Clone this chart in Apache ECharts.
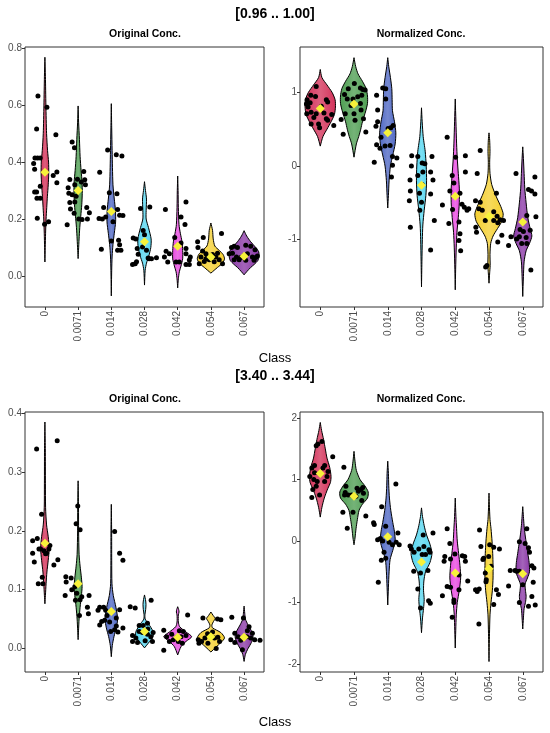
<!DOCTYPE html>
<html>
<head>
<meta charset="utf-8">
<script src="https://cdn.jsdelivr.net/npm/echarts@6.0.0/dist/echarts.min.js"></script>
<style>
  html, body { margin: 0; padding: 0; background: #fff; }
  #chart { width: 550px; height: 733px; }
</style>
</head>
<body>
<div id="chart"></div>
<script>
// categories and colours
var classLabels = ['0', '0.0071', '0.014', '0.028', '0.042', '0.054', '0.067'];
var violinColors = ['#d3325a', '#4e9e52', '#4f68c4', '#56d6f0', '#e849e0', '#f5cf2f', '#8a38a6'];

// ---- [0.96 .. 1.00] / Original Conc. ----
// violin outlines: [value, half width in class units]
var tlViolins = [
    [[0.768,0],[0.7,0.015],[0.6,0.03],[0.5,0.05],[0.44,0.08],[0.4,0.11],[0.36,0.115],[0.32,0.1],[0.28,0.075],[0.24,0.055],[0.2,0.035],[0.15,0.02],[0.1,0.01],[0.049,0]],
    [[0.597,0],[0.54,0.015],[0.48,0.04],[0.42,0.06],[0.37,0.09],[0.33,0.12],[0.29,0.125],[0.25,0.11],[0.21,0.08],[0.17,0.05],[0.13,0.03],[0.09,0.012],[0.061,0]],
    [[0.605,0],[0.52,0.012],[0.44,0.025],[0.38,0.035],[0.32,0.05],[0.27,0.09],[0.23,0.125],[0.19,0.13],[0.15,0.09],[0.11,0.05],[0.07,0.025],[0.02,0.012],[-0.07,0]],
    [[0.331,0],[0.3,0.03],[0.27,0.06],[0.23,0.05],[0.2,0.05],[0.17,0.12],[0.13,0.2],[0.1,0.19],[0.07,0.13],[0.045,0.06],[0.02,0.02],[-0.032,0]],
    [[0.351,0],[0.3,0.012],[0.24,0.02],[0.18,0.04],[0.15,0.08],[0.12,0.13],[0.09,0.15],[0.06,0.15],[0.035,0.1],[0.015,0.05],[-0.01,0.02],[-0.042,0]],
    [[0.186,0],[0.16,0.05],[0.13,0.07],[0.105,0.12],[0.09,0.25],[0.075,0.37],[0.06,0.41],[0.045,0.35],[0.03,0.2],[0.02,0.1],[0.01,0]],
    [[0.159,0],[0.14,0.08],[0.12,0.2],[0.1,0.35],[0.085,0.44],[0.07,0.45],[0.055,0.42],[0.04,0.3],[0.03,0.2],[0.015,0.08],[0.004,0]]
];
// points: [jitter offset, value]
var tlPoints = [
    [[-0.21,0.632],[0.06,0.592],[-0.25,0.516],[0.33,0.496],[-0.30,0.414],[-0.22,0.414],[-0.14,0.414],[-0.34,0.395],[-0.31,0.375],[0.25,0.353],[0.36,0.365],[0.36,0.327],[-0.14,0.315],[-0.31,0.295],[-0.25,0.295],[-0.24,0.273],[-0.14,0.273],[-0.23,0.203],[0.11,0.19],[-0.01,0.182]],
    [[-0.18,0.47],[-0.11,0.45],[0.17,0.367],[-0.25,0.339],[-0.02,0.34],[0.2,0.338],[-0.1,0.32],[0.22,0.32],[-0.3,0.31],[0.1,0.33],[-0.28,0.29],[-0.18,0.285],[-0.06,0.28],[-0.25,0.258],[-0.1,0.26],[-0.23,0.235],[0.26,0.24],[-0.12,0.22],[0.34,0.222],[0.28,0.2],[0.02,0.2],[0.12,0.198],[-0.33,0.18]],
    [[-0.11,0.442],[0.15,0.426],[0.32,0.421],[-0.35,0.364],[-0.06,0.292],[0.17,0.289],[-0.23,0.24],[0.19,0.233],[-0.37,0.202],[-0.27,0.2],[-0.17,0.207],[0.05,0.19],[0.35,0.212],[0.25,0.213],[0,0.123],[-0.3,0.094],[0.22,0.125],[0.25,0.11],[0.19,0.09],[0.29,0.09]],
    [[-0.12,0.237],[0.16,0.242],[-0.34,0.133],[-0.26,0.13],[-0.06,0.102],[-0.22,0.096],[0.06,0.09],[-0.19,0.076],[0.11,0.063],[0.36,0.064],[0.21,0.06],[0.14,0.06],[-0.36,0.04],[-0.28,0.043],[-0.24,0.05],[-0.04,0.16],[0,0.145]],
    [[-0.37,0.233],[0.25,0.26],[0.1,0.207],[0.22,0.181],[-0.09,0.135],[0.1,0.116],[0.25,0.096],[0.25,0.078],[-0.35,0.087],[-0.4,0.067],[-0.25,0.078],[0.38,0.067],[-0.05,0.049],[0.05,0.049],[0.25,0.04],[0.35,0.04],[-0.3,0.049],[0.35,0.056]],
    [[-0.4,0.12],[-0.23,0.135],[0.32,0.149],[-0.39,0.1],[-0.25,0.088],[-0.15,0.078],[-0.3,0.067],[-0.1,0.067],[-0.05,0.057],[0.05,0.075],[0.15,0.067],[0.25,0.057],[0.35,0.043],[-0.2,0.051],[-0.35,0.043],[0.1,0.05],[-0.15,0.06],[0.2,0.08]],
    [[-0.38,0.1],[-0.3,0.104],[-0.2,0.1],[0.05,0.108],[0.2,0.104],[0.33,0.092],[-0.45,0.078],[-0.35,0.08],[-0.23,0.067],[-0.1,0.065],[0,0.072],[0.1,0.078],[0.25,0.067],[0.35,0.065],[-0.3,0.057],[-0.15,0.057],[0.05,0.055],[0.3,0.055],[0.4,0.07]]
];
var tlMeans = [0.364, 0.3, 0.226, 0.12, 0.104, 0.067, 0.069];
var tlTicks = [0, 0.2, 0.4, 0.6, 0.8];

// ---- [0.96 .. 1.00] / Normalized Conc. ----
var trViolins = [
    [[1.31,0],[1.2,0.05],[1.1,0.2],[1.0,0.35],[0.9,0.44],[0.8,0.45],[0.7,0.42],[0.6,0.32],[0.5,0.2],[0.4,0.08],[0.27,0]],
    [[1.47,0],[1.35,0.05],[1.25,0.12],[1.15,0.25],[1.05,0.36],[0.95,0.4],[0.85,0.4],[0.75,0.35],[0.6,0.25],[0.5,0.2],[0.4,0.14],[0.3,0.07],[0.12,0]],
    [[1.47,0],[1.35,0.03],[1.2,0.08],[1.05,0.12],[0.9,0.13],[0.75,0.14],[0.6,0.2],[0.45,0.24],[0.3,0.22],[0.15,0.15],[0.0,0.08],[-0.2,0.04],[-0.4,0.02],[-0.57,0]],
    [[0.79,0],[0.6,0.02],[0.4,0.05],[0.3,0.08],[0.2,0.11],[0.0,0.14],[-0.2,0.15],[-0.4,0.13],[-0.6,0.08],[-0.8,0.04],[-1.0,0.025],[-1.3,0.012],[-1.64,0]],
    [[0.91,0],[0.6,0.02],[0.3,0.04],[0.1,0.06],[-0.1,0.09],[-0.3,0.12],[-0.5,0.12],[-0.7,0.09],[-0.9,0.05],[-1.1,0.03],[-1.4,0.012],[-1.68,0]],
    [[0.45,0],[0.35,0.02],[0.2,0.03],[0.05,0.02],[-0.1,0.03],[-0.25,0.08],[-0.4,0.2],[-0.55,0.35],[-0.65,0.42],[-0.75,0.38],[-0.85,0.25],[-0.95,0.12],[-1.05,0.05],[-1.2,0.03],[-1.35,0.035],[-1.45,0.02],[-1.59,0]],
    [[0.26,0],[0.1,0.02],[-0.1,0.04],[-0.3,0.06],[-0.5,0.1],[-0.7,0.15],[-0.85,0.22],[-0.95,0.27],[-1.05,0.2],[-1.15,0.1],[-1.3,0.04],[-1.5,0.02],[-1.77,0]]
];
var trPoints = [
    [[-0.12,1.08],[-0.28,0.96],[-0.14,0.945],[-0.39,0.9],[0.18,0.9],[0.22,0.87],[-0.41,0.84],[-0.36,0.8],[0.03,0.81],[-0.27,0.73],[-0.12,0.71],[-0.4,0.71],[0.11,0.72],[0.34,0.7],[-0.19,0.66],[0.18,0.64],[-0.27,0.57],[-0.05,0.57],[0.4,0.55],[-0.02,0.52],[0.22,0.62],[-0.3,0.86]],
    [[-0.17,1.05],[0.01,1.12],[0.19,1.06],[0.26,1.04],[0.33,1.03],[-0.28,0.97],[-0.2,0.91],[-0.03,0.91],[0.11,0.94],[0.23,0.96],[-0.38,0.63],[-0.26,0.71],[0.21,0.76],[0,0.71],[0.28,0.64],[0.03,0.62],[-0.32,0.43],[0.35,0.46],[-0.09,0.82],[0.19,0.85]],
    [[-0.33,0.96],[-0.15,1.06],[-0.06,1.05],[-0.06,0.91],[-0.3,0.76],[-0.3,0.6],[-0.35,0.54],[0.01,0.51],[0.09,0.52],[0.16,0.55],[-0.33,0.29],[-0.23,0.24],[-0.08,0.27],[0.07,0.28],[0.14,0.13],[0.27,0.11],[-0.4,0.05],[0.14,0.01],[0.11,-0.15],[-0.2,0.39]],
    [[-0.29,0.14],[-0.11,0.13],[0.31,0.13],[-0.3,0],[0.02,0.04],[0.1,0.03],[0.27,-0.08],[-0.11,-0.13],[-0.34,-0.19],[0.34,-0.19],[0.02,-0.25],[-0.33,-0.34],[0.27,-0.38],[-0.06,-0.37],[-0.36,-0.47],[0,-0.49],[-0.05,-0.6],[0.38,-0.74],[-0.33,-0.83],[0.27,-1.14],[0.04,-0.08]],
    [[-0.24,0.39],[0.01,0.12],[0.3,0.14],[-0.09,-0.13],[0.3,-0.08],[-0.04,-0.23],[0.14,-0.37],[-0.16,-0.34],[-0.38,-0.53],[0.2,-0.52],[0.27,-0.56],[0.35,-0.6],[0.4,-0.58],[-0.08,-0.59],[-0.19,-0.78],[0.11,-0.76],[0.14,-0.92],[0.11,-1.01],[0.16,-1.15]],
    [[-0.26,0.21],[-0.35,-0.1],[-0.4,-0.47],[-0.26,-0.49],[-0.3,-0.58],[-0.2,-0.6],[-0.39,-0.83],[-0.37,-0.9],[-0.11,-0.74],[0.14,-0.74],[0.22,-0.37],[0.24,-0.68],[0.33,-0.73],[0.26,-0.77],[0.43,-0.74],[0.14,-0.62],[0.38,-0.94],[0.26,-1.03],[-0.06,-1.35],[-0.1,-1.37]],
    [[-0.2,-0.1],[0.36,-0.15],[0.17,-0.32],[0.26,-0.34],[0.36,-0.38],[0.39,-0.69],[0.12,-0.67],[-0.08,-0.86],[0.02,-0.89],[0.1,-0.97],[-0.1,-0.96],[-0.18,-0.99],[-0.35,-0.96],[-0.42,-1.08],[-0.03,-1.05],[0.12,-1.05],[0.24,-1.41],[0.22,-0.87]]
];
var trMeans = [0.78, 0.84, 0.45, -0.26, -0.41, -0.68, -0.76];
var trTicks = [-1, 0, 1];

// ---- [3.40 .. 3.44] / Original Conc. ----
var blViolins = [
    [[0.385,0],[0.34,0.012],[0.28,0.015],[0.24,0.02],[0.21,0.05],[0.19,0.1],[0.17,0.13],[0.15,0.1],[0.13,0.06],[0.11,0.035],[0.09,0.015],[0.076,0]],
    [[0.285,0],[0.24,0.012],[0.2,0.015],[0.16,0.03],[0.14,0.06],[0.12,0.1],[0.105,0.12],[0.09,0.1],[0.07,0.06],[0.05,0.03],[0.03,0.012],[0.015,0]],
    [[0.245,0],[0.2,0.01],[0.15,0.012],[0.11,0.02],[0.09,0.06],[0.07,0.14],[0.05,0.19],[0.035,0.15],[0.02,0.08],[0.005,0.03],[-0.014,0]],
    [[0.091,0],[0.083,0.03],[0.075,0.045],[0.066,0.035],[0.058,0.015],[0.05,0.02],[0.042,0.12],[0.03,0.25],[0.022,0.27],[0.015,0.2],[0.008,0.1],[0.001,0]],
    [[0.071,0],[0.066,0.03],[0.062,0.04],[0.057,0.02],[0.045,0.02],[0.037,0.06],[0.028,0.25],[0.02,0.42],[0.012,0.25],[0.003,0.1],[-0.011,0]],
    [[0.062,0],[0.056,0.07],[0.051,0.13],[0.046,0.08],[0.04,0.03],[0.035,0.05],[0.027,0.3],[0.018,0.41],[0.01,0.3],[0.002,0.15],[-0.006,0]],
    [[0.072,0],[0.06,0.02],[0.05,0.04],[0.04,0.12],[0.03,0.22],[0.02,0.27],[0.01,0.22],[0.0,0.12],[-0.01,0.04],[-0.022,0]]
];
var blPoints = [
    [[-0.25,0.339],[0.37,0.353],[-0.1,0.228],[-0.37,0.183],[-0.23,0.187],[-0.18,0.169],[-0.13,0.169],[-0.03,0.166],[0.12,0.169],[0.15,0.175],[-0.37,0.162],[-0.32,0.147],[0.05,0.162],[0.27,0.142],[0.39,0.151],[-0.08,0.121],[-0.2,0.11],[-0.06,0.11],[0.02,0.161]],
    [[-0.01,0.242],[-0.06,0.212],[0.06,0.202],[-0.37,0.122],[-0.21,0.12],[-0.36,0.113],[-0.19,0.1],[-0.39,0.09],[0.33,0.09],[-0.08,0.082],[0.06,0.083],[-0.04,0.094],[0.28,0.07],[0.04,0.056],[0.31,0.059],[0.11,0.088],[-0.1,0.105]],
    [[0.1,0.199],[0.25,0.162],[0.35,0.15],[-0.35,0.07],[-0.4,0.065],[-0.23,0.07],[-0.17,0.065],[-0.13,0.056],[-0.29,0.046],[-0.35,0.04],[-0.2,0.048],[0.15,0.052],[0.25,0.066],[0.15,0.038],[0.1,0.032],[-0.02,0.029],[0.2,0.028],[0.35,0.035],[-0.05,0.045]],
    [[-0.43,0.071],[-0.28,0.069],[0.2,0.082],[0.09,0.043],[-0.16,0.039],[-0.04,0.039],[-0.36,0.022],[-0.26,0.018],[-0.16,0.029],[-0.06,0.027],[0.09,0.024],[0.19,0.02],[0.24,0.012],[-0.36,0.012],[-0.21,0.01],[0.02,0.013],[0.26,0.027],[0.1,0.033]],
    [[0.3,0.057],[-0.42,0.031],[-0.33,0.02],[-0.18,0.024],[-0.03,0.019],[0.1,0.02],[0.17,0.029],[-0.13,0.015],[0.02,0.012],[-0.42,-0.003],[0.14,0.009],[-0.25,0.012],[0.25,0.022],[0.05,0.03]],
    [[-0.24,0.052],[0.2,0.05],[0.3,0.049],[-0.38,0.015],[-0.28,0.012],[-0.18,0.018],[0.01,0.019],[0.11,0.018],[0.21,0.019],[0.26,0.012],[-0.09,0.009],[0.16,0],[-0.36,0.009],[0.05,0.028],[-0.1,0.025]],
    [[-0.37,0.053],[-0.02,0.052],[0.15,0.037],[-0.18,0.02],[-0.4,0.015],[-0.28,0.01],[-0.1,0.014],[0.08,0.02],[0.2,0.018],[0.32,0.015],[0.48,0.014],[0.25,0.026],[-0.28,0.026],[-0.05,-0.002],[0.1,0.03]]
];
var blMeans = [0.179, 0.11, 0.063, 0.029, 0.019, 0.02, 0.019];
var blTicks = [0, 0.1, 0.2, 0.3, 0.4];

// ---- [3.40 .. 3.44] / Normalized Conc. ----
var brViolins = [
    [[1.93,0],[1.8,0.04],[1.65,0.1],[1.5,0.15],[1.35,0.2],[1.2,0.28],[1.05,0.32],[0.95,0.3],[0.85,0.22],[0.7,0.12],[0.55,0.05],[0.39,0]],
    [[1.46,0],[1.3,0.03],[1.15,0.07],[1.0,0.18],[0.9,0.32],[0.8,0.42],[0.7,0.4],[0.6,0.25],[0.5,0.15],[0.35,0.1],[0.2,0.06],[0.05,0.03],[-0.06,0]],
    [[1.3,0],[1.1,0.02],[0.9,0.03],[0.7,0.05],[0.5,0.09],[0.3,0.15],[0.15,0.2],[0.0,0.22],[-0.15,0.15],[-0.3,0.07],[-0.5,0.04],[-0.75,0.02],[-1.04,0]],
    [[0.54,0],[0.4,0.03],[0.25,0.08],[0.1,0.15],[-0.05,0.25],[-0.2,0.31],[-0.35,0.25],[-0.5,0.12],[-0.65,0.07],[-0.8,0.06],[-0.95,0.08],[-1.1,0.06],[-1.25,0.03],[-1.49,0]],
    [[0.7,0],[0.4,0.02],[0.2,0.04],[0.0,0.06],[-0.2,0.1],[-0.4,0.14],[-0.6,0.16],[-0.8,0.12],[-1.0,0.06],[-1.2,0.03],[-1.45,0.015],[-1.74,0]],
    [[0.78,0],[0.6,0.01],[0.35,0.03],[0.2,0.06],[0.0,0.09],[-0.2,0.11],[-0.4,0.12],[-0.6,0.12],[-0.8,0.1],[-1.0,0.06],[-1.2,0.03],[-1.5,0.015],[-1.96,0]],
    [[0.56,0],[0.4,0.02],[0.25,0.04],[0.1,0.07],[-0.05,0.11],[-0.2,0.15],[-0.35,0.19],[-0.5,0.2],[-0.6,0.14],[-0.7,0.07],[-0.8,0.08],[-0.9,0.1],[-1.0,0.08],[-1.1,0.04],[-1.25,0.02],[-1.43,0]]
];
var brPoints = [
    [[-0.07,1.58],[0.05,1.62],[-0.12,1.55],[0.37,1.37],[-0.17,1.23],[-0.25,1.19],[0.08,1.19],[0.13,1.23],[0.23,1.13],[-0.17,1.11],[-0.31,1.05],[-0.19,1.0],[-0.12,0.89],[-0.22,0.84],[-0.02,0.75],[-0.25,0.71],[0.2,1.05],[0.13,0.97],[-0.09,0.97]],
    [[-0.3,1.2],[-0.24,0.89],[-0.26,0.79],[-0.28,0.75],[-0.17,0.75],[-0.07,0.75],[0.06,0.73],[0.13,0.81],[0.21,0.84],[0.26,0.87],[0.28,0.78],[0.09,0.86],[0.01,0.72],[-0.33,0.47],[-0.03,0.47],[0.35,0.41],[-0.2,0.21],[0.23,0.66]],
    [[0.24,0.93],[-0.18,0.56],[-0.42,0.3],[-0.4,0.27],[-0.06,0.24],[-0.3,0.02],[-0.22,0.04],[-0.15,0],[0.04,-0.02],[0.3,0.13],[0.25,-0.02],[0.34,-0.06],[0.14,-0.06],[-0.11,-0.18],[-0.19,-0.31],[-0.06,-0.28],[-0.28,-0.67]],
    [[-0.34,-0.08],[-0.3,-0.13],[-0.22,-0.18],[-0.08,-0.13],[0.07,-0.09],[0.22,-0.14],[0.34,0.13],[0.05,0.1],[0.25,-0.18],[0.02,-0.22],[0.12,-0.22],[-0.23,-0.49],[-0.03,-0.52],[0.19,-0.48],[-0.11,-0.78],[-0.03,-1.09],[0.21,-0.97],[0.26,-1.01]],
    [[-0.24,0.2],[-0.16,-0.04],[-0.31,-0.25],[-0.01,-0.21],[0.21,-0.24],[0.28,-0.25],[-0.33,-0.33],[0.3,-0.33],[-0.14,-0.29],[0.11,-0.55],[-0.24,-0.74],[-0.14,-0.75],[0.37,-0.65],[0.11,-0.79],[-0.38,-0.89],[-0.04,-0.96],[-0.09,-1.24],[-0.04,-1.0]],
    [[-0.28,0.18],[-0.24,-0.09],[0.02,-0.06],[0.14,-0.1],[0.31,-0.13],[-0.16,-0.28],[-0.18,-0.3],[-0.01,-0.25],[-0.11,-0.52],[-0.08,-0.63],[-0.09,-0.66],[-0.4,-0.79],[-0.35,-0.82],[-0.29,-0.78],[0.22,-0.79],[0.28,-0.87],[0.14,-1.03],[-0.3,-1.35],[0.06,-0.41]],
    [[0.12,0.2],[-0.1,-0.01],[0.07,-0.04],[0.17,-0.11],[0.2,-0.18],[-0.37,-0.48],[-0.23,-0.48],[-0.18,-0.49],[-0.1,-0.49],[0.27,-0.4],[0.33,-0.44],[0.31,-0.67],[-0.42,-0.73],[0,-0.71],[0.27,-0.9],[-0.1,-1.0],[0.17,-1.06],[0.37,-1.04]]
];
var brMeans = [1.1, 0.73, 0.07, -0.34, -0.52, -0.45, -0.53];
var brTicks = [-2, -1, 0, 1, 2];

var FONT = 'Liberation Sans, Arial, Helvetica, sans-serif';

function lighten(hex, k) {
    var n = parseInt(hex.slice(1), 16);
    var r = (n >> 16) & 255, g = (n >> 8) & 255, b = n & 255;
    r = Math.round(r + (255 - r) * k);
    g = Math.round(g + (255 - g) * k);
    b = Math.round(b + (255 - b) * k);
    return 'rgb(' + r + ',' + g + ',' + b + ')';
}

var chart = echarts.init(document.getElementById('chart'));

var panels = [
    { grid: {left: 25, top: 47, width: 239, height: 260}, yMin: -0.109, yMax: 0.804, ticks: tlTicks, dec: 1, violins: tlViolins, points: tlPoints, means: tlMeans },
    { grid: {left: 300, top: 47, width: 243, height: 260}, yMin: -1.913, yMax: 1.615, ticks: trTicks, dec: 0, violins: trViolins, points: trPoints, means: trMeans },
    { grid: {left: 25, top: 412, width: 239, height: 260}, yMin: -0.04, yMax: 0.402, ticks: blTicks, dec: 1, violins: blViolins, points: blPoints, means: blMeans },
    { grid: {left: 300, top: 412, width: 243, height: 260}, yMin: -2.13, yMax: 2.1, ticks: brTicks, dec: 0, violins: brViolins, points: brPoints, means: brMeans }
];

var grids = [], xAxes = [], yAxes = [], series = [];

panels.forEach(function (p, k) {
    grids.push({
        left: p.grid.left, top: p.grid.top, width: p.grid.width, height: p.grid.height,
        show: true, borderColor: '#333', borderWidth: 1, backgroundColor: '#fff'
    });
    xAxes.push({
        gridIndex: k, type: 'value', min: -0.6, max: 6.6, position: 'bottom',
        axisLine: {show: false, onZero: false},
        splitLine: {show: false},
        axisTick: {show: true, length: 3, lineStyle: {color: '#333'}, customValues: [0, 1, 2, 3, 4, 5, 6]},
        axisLabel: {
            customValues: [0, 1, 2, 3, 4, 5, 6],
            rotate: 90, margin: 4, fontSize: 10, color: '#4d4d4d', fontFamily: FONT,
            formatter: function (v) { return classLabels[Math.round(v)]; }
        }
    });
    yAxes.push({
        gridIndex: k, type: 'value', min: p.yMin, max: p.yMax, position: 'left',
        axisLine: {show: false, onZero: false},
        splitLine: {show: false},
        axisTick: {show: true, length: 3, lineStyle: {color: '#333'}, customValues: p.ticks},
        axisLabel: {
            customValues: p.ticks, margin: 3, fontSize: 10, color: '#4d4d4d', fontFamily: FONT,
            formatter: function (v) { return v.toFixed(p.dec); }
        }
    });

    // violins
    series.push({
        type: 'custom', xAxisIndex: k, yAxisIndex: k, z: 2, silent: true,
        data: p.means.map(function (m, i) { return [i, m]; }),
        renderItem: function (params, api) {
            var i = params.dataIndex;
            var prof = p.violins[i];
            var left = [], right = [];
            prof.forEach(function (d) {
                left.push(api.coord([i - d[1], d[0]]));
                right.push(api.coord([i + d[1], d[0]]));
            });
            var col = violinColors[i];
            return {
                type: 'polygon',
                shape: {points: left.concat(right.reverse()), smooth: 0.25},
                style: {
                    fill: new echarts.graphic.LinearGradient(0, 0, 1, 0, [
                        {offset: 0, color: col},
                        {offset: 0.5, color: lighten(col, 0.22)},
                        {offset: 1, color: col}
                    ]),
                    stroke: '#000', lineWidth: 1
                }
            };
        }
    });

    // jittered points
    var pts = [];
    p.points.forEach(function (grp, i) {
        grp.forEach(function (d) { pts.push([i + d[0], d[1]]); });
    });
    series.push({
        type: 'scatter', xAxisIndex: k, yAxisIndex: k, z: 3, silent: true,
        symbolSize: 5, itemStyle: {color: '#000', opacity: 1},
        data: pts
    });

    // means
    series.push({
        type: 'scatter', xAxisIndex: k, yAxisIndex: k, z: 4, silent: true,
        symbol: 'diamond', symbolSize: 9, itemStyle: {color: '#f7f23a', opacity: 1},
        data: p.means.map(function (m, i) { return [i, m]; })
    });
});

function label(text, x, y, font) {
    return {
        type: 'text', x: x, y: y, z: 10,
        style: {text: text, font: font, fill: '#000', align: 'center', verticalAlign: 'middle', textAlign: 'center', textVerticalAlign: 'middle'}
    };
}

var texts = [
    label('[0.96 .. 1.00]', 275, 14, 'bold 14px ' + FONT),
    label('Original Conc.', 145, 34, 'bold 10.5px ' + FONT),
    label('Normalized Conc.', 421, 34, 'bold 10.5px ' + FONT),
    label('Class', 275, 358, '13px ' + FONT),
    label('[3.40 .. 3.44]', 275, 376, 'bold 14px ' + FONT),
    label('Original Conc.', 145, 399, 'bold 10.5px ' + FONT),
    label('Normalized Conc.', 421, 399, 'bold 10.5px ' + FONT),
    label('Class', 275, 722, '13px ' + FONT)
];

chart.setOption({
    animation: false,
    backgroundColor: '#fff',
    textStyle: {fontFamily: FONT},
    graphic: texts,
    grid: grids,
    xAxis: xAxes,
    yAxis: yAxes,
    series: series
});
</script>
</body>
</html>
